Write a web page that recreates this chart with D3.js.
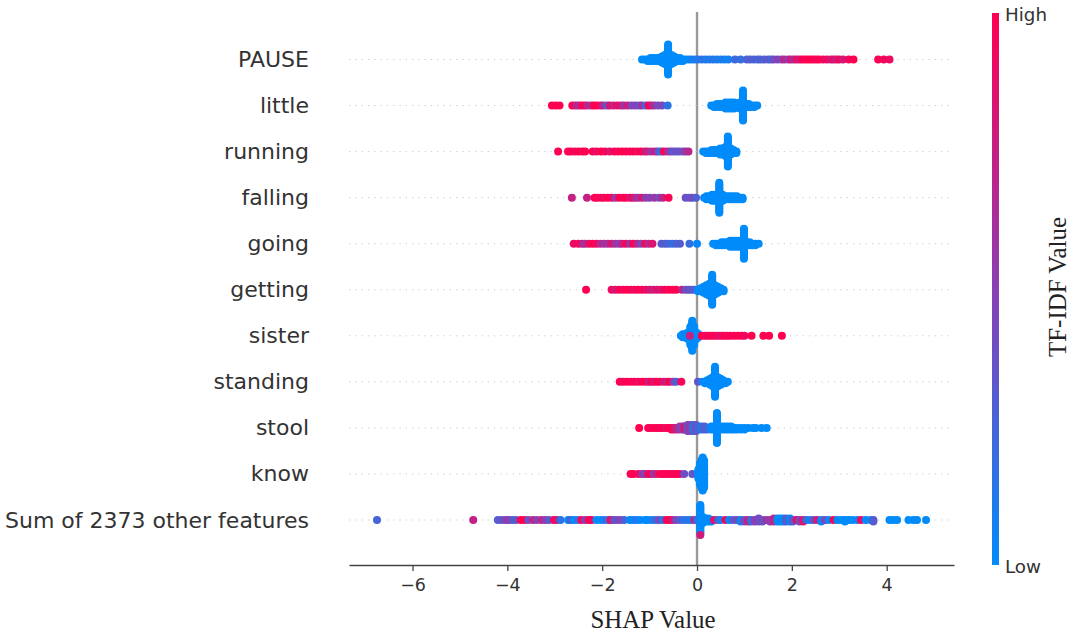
<!DOCTYPE html>
<html>

<head>
    <meta charset="utf-8">
    <style>
        body {
            margin: 0;
            background: #fff;
        }

        svg {
            display: block;
        }

        .x .tick text {
            font-family: 'DejaVu Sans', sans-serif;
            font-size: 17.5px;
            fill: #333;
        }

        .x .tick line,
        .x .domain {
            stroke: #444;
            stroke-width: 1.3px;
        }

        .feature-label {
            font-family: 'DejaVu Sans', sans-serif;
            font-size: 22px;
            fill: #333;
            text-anchor: end;
            dominant-baseline: central;
        }

        .bar-label {
            font-family: 'DejaVu Sans', sans-serif;
            font-size: 18.3px;
            fill: #333;
            dominant-baseline: central;
        }

        .axis-title {
            font-family: 'Liberation Serif', serif;
            font-size: 24.9px;
            fill: #222;
            text-anchor: middle;
        }
    </style>
</head>

<body>
    <svg width="1075" height="632"></svg>

    <script src="https://d3js.org/d3.v7.min.js"></script>
    <script>
        let featureNames = ["PAUSE", "little", "running", "falling", "going", "getting", "sister", "standing", "stool", "know", "Sum of 2373 other features"]
        let xTicks = [-6, -4, -2, 0, 2, 4]
        let xExtent = [-7.34, 5.42]
        let barLabels = ["High", "Low"]

        // each point: [shap value, tf-idf value (0 low, 1 high), how many stacked at that shap value]
        let pauseValues = [
            [-1.16, 0], [-1.1, 0], [-1.04, 0, 2], [-0.98, 0, 3], [-0.92, 0, 3], [-0.86, 0, 3], [-0.8, 0, 3], [-0.74, 0, 5], [-0.68, 0, 7], [-0.61, 0, 21],
            [-0.54, 0, 7], [-0.48, 0, 5], [-0.42, 0, 3], [-0.36, 0, 3], [-0.3, 0, 2], [-0.24, 0], [-0.18, 0], [-0.12, 0.05], [-0.05, 0.1], [0.02, 0.12], [0.1, 0.15],
            [0.18, 0.12], [0.26, 0.1], [0.34, 0.14], [0.42, 0.1], [0.5, 0.08], [0.58, 0.1], [0.66, 0.06], [0.8, 0.22], [0.92, 0.2], [1.05, 0.25], [1.12, 0.3],
            [1.2, 0.28], [1.28, 0.25], [1.34, 0.3], [1.42, 0.27], [1.5, 0.35], [1.56, 0.25], [1.62, 0.4], [1.7, 0.5], [1.78, 0.45], [1.84, 0.7], [1.92, 0.55],
            [1.98, 0.8], [2.04, 0.62], [2.1, 0.9], [2.16, 0.8], [2.22, 1], [2.28, 0.95], [2.34, 1], [2.4, 1], [2.46, 1], [2.52, 0.95], [2.58, 1], [2.66, 0.92],
            [2.74, 0.95], [2.82, 0.8], [2.88, 0.9], [2.94, 0.75], [3, 0.95], [3.08, 0.8], [3.2, 0.95], [3.3, 1], [3.82, 0.98], [3.94, 0.95], [4.06, 0.92]
        ]
        let littleValues = [
            [-3.06, 1], [-2.98, 1], [-2.9, 1], [-2.63, 1], [-2.56, 0.8], [-2.5, 0.6], [-2.44, 0.9], [-2.38, 1], [-2.32, 0.75], [-2.24, 0.6], [-2.18, 1], [-2.12, 1],
            [-2.04, 0.95], [-1.98, 0.7], [-1.9, 0.3], [-1.84, 0.85], [-1.76, 0.75], [-1.68, 0.9], [-1.6, 0.8], [-1.54, 0.6], [-1.46, 0.8], [-1.38, 0.45], [-1.3, 0.5],
            [-1.22, 0.35], [-1.16, 0.6], [-1.08, 0.2], [-1.02, 1], [-0.96, 0.85], [-0.9, 0.6], [-0.82, 0.45], [-0.74, 0.45], [-0.62, 0.15],
            [0.3, 0], [0.36, 0, 2], [0.42, 0, 3], [0.48, 0, 3], [0.54, 0, 3], [0.6, 0, 5], [0.66, 0, 5], [0.72, 0, 5], [0.78, 0, 5], [0.84, 0, 3], [0.9, 0, 5],
            [0.97, 0, 21], [1.03, 0, 3], [1.09, 0, 3], [1.15, 0, 2], [1.21, 0, 2], [1.27, 0]
        ]
        let runningValues = [
            [-2.93, 1], [-2.72, 1], [-2.66, 1], [-2.58, 0.95], [-2.5, 1], [-2.42, 0.95], [-2.36, 1], [-2.2, 1], [-2.12, 0.9], [-2.02, 1], [-1.94, 0.95], [-1.84, 0.85],
            [-1.74, 1], [-1.66, 0.95], [-1.58, 1], [-1.5, 1], [-1.42, 0.95], [-1.34, 1], [-1.26, 0.9], [-1.18, 1], [-1.1, 0.85], [-1.04, 0.75], [-0.96, 0.6], [-0.88, 0.8],
            [-0.82, 0.4], [-0.76, 0.15], [-0.7, 1], [-0.62, 0.7], [-0.56, 0.5], [-0.5, 0.3], [-0.44, 0.4], [-0.38, 0.35], [-0.3, 0.45], [-0.24, 0.5], [-0.18, 0.7],
            [0.13, 0], [0.19, 0, 2], [0.25, 0, 2], [0.31, 0, 3], [0.37, 0, 3], [0.43, 0, 3], [0.49, 0, 5], [0.55, 0, 5], [0.6, 0, 7], [0.65, 0, 21], [0.71, 0, 5], [0.77, 0, 3], [0.83, 0, 2]
        ]
        let fallingValues = [
            [-2.64, 0.75], [-2.32, 0.75], [-2.16, 1], [-2.1, 0.95], [-2.02, 1], [-1.96, 0.9], [-1.88, 1], [-1.8, 0.95], [-1.72, 0.55], [-1.64, 1], [-1.56, 0.95], [-1.5, 1],
            [-1.42, 0.85], [-1.36, 0.9], [-1.3, 0.7], [-1.24, 0.6], [-1.16, 0.85], [-1.08, 0.5], [-1, 0.5], [-0.9, 0.55], [-0.8, 0.45], [-0.72, 0.75], [-0.6, 0.98],
            [-0.24, 0.4], [-0.16, 0.35], [-0.1, 0.4], [-0.02, 0.3],
            [0.15, 0], [0.2, 0, 3], [0.26, 0, 3], [0.32, 0, 5], [0.38, 0, 5], [0.47, 0, 21], [0.54, 0, 5], [0.6, 0, 3], [0.66, 0, 3], [0.72, 0, 3], [0.78, 0, 3], [0.84, 0, 3], [0.9, 0, 2], [0.96, 0, 2]
        ]
        let goingValues = [
            [-2.6, 0.9], [-2.5, 0.95], [-2.42, 0.75], [-2.36, 0.6], [-2.28, 0.9], [-2.2, 1], [-2.12, 0.95], [-2.04, 0.7], [-1.96, 0.6], [-1.88, 0.65], [-1.8, 0.85], [-1.72, 0.6],
            [-1.64, 0.5], [-1.58, 0.75], [-1.5, 0.95], [-1.42, 0.6], [-1.34, 1], [-1.26, 0.7], [-1.18, 0.45], [-1.1, 0.9], [-1.02, 0.7], [-0.94, 0.85],
            [-0.75, 0.3], [-0.67, 0.3], [-0.6, 0.25], [-0.52, 0.2], [-0.44, 0.25], [-0.36, 0.3], [-0.16, 0.2], [0, 0.02],
            [0.34, 0], [0.4, 0, 2], [0.46, 0, 2], [0.52, 0, 3], [0.58, 0, 3], [0.64, 0, 3], [0.7, 0, 5], [0.76, 0, 5], [0.82, 0, 5], [0.88, 0, 5], [0.94, 0, 5], [0.99, 0, 21],
            [1.05, 0, 3], [1.11, 0, 3], [1.17, 0, 2], [1.23, 0, 2], [1.3, 0]
        ]
        let gettingValues = [
            [-2.34, 1], [-1.8, 0.95], [-1.72, 0.8], [-1.64, 1], [-1.56, 0.95], [-1.48, 1], [-1.4, 1], [-1.32, 0.9], [-1.24, 1], [-1.16, 0.95], [-1.08, 0.9], [-1, 0.85],
            [-0.92, 0.75], [-0.84, 0.9], [-0.76, 0.8], [-0.68, 1], [-0.6, 0.95], [-0.52, 1], [-0.44, 1], [-0.32, 0.75], [-0.24, 0.4], [-0.18, 0.38], [-0.12, 0.35], [-0.06, 0.3],
            [0.02, 0, 2], [0.08, 0, 3], [0.14, 0, 5], [0.2, 0, 7], [0.26, 0, 9], [0.32, 0, 21], [0.38, 0, 7], [0.44, 0, 5], [0.5, 0, 3], [0.56, 0, 2]
        ]
        let sisterValues = [
            [-0.34, 0], [-0.3, 0, 3], [-0.25, 0, 3], [-0.2, 0, 5], [-0.14, 0, 13], [-0.1, 0, 21], [-0.06, 0, 13], [-0.01, 0, 5], [0.03, 0, 3], [-0.15, 0.75],
            [0.1, 1], [0.16, 0.98], [0.22, 0.92], [0.28, 1], [0.34, 0.95], [0.4, 1], [0.46, 0.85], [0.52, 0.95], [0.58, 1], [0.64, 0.92], [0.7, 1], [0.78, 1],
            [0.86, 0.98], [0.94, 1], [1.0, 0.95], [1.15, 1], [1.4, 1], [1.52, 1], [1.79, 1]
        ]
        let standingValues = [
            [-1.63, 1], [-1.56, 0.95], [-1.48, 1], [-1.4, 0.95], [-1.32, 1], [-1.24, 0.9], [-1.16, 1], [-1.08, 1], [-1.02, 0.75], [-0.96, 1], [-0.9, 0.8], [-0.84, 1],
            [-0.78, 0.95], [-0.7, 0.85], [-0.64, 0.75], [-0.58, 1], [-0.5, 0.55], [-0.44, 0.3], [-0.33, 0.95], [0.02, 0.35],
            [0.12, 0], [0.17, 0, 2], [0.22, 0, 3], [0.28, 0, 5], [0.33, 0, 7], [0.38, 0, 21], [0.44, 0, 7], [0.5, 0, 5], [0.55, 0, 3], [0.6, 0, 2], [0.65, 0]
        ]
        let stoolValues = [
            [-1.22, 1], [-1.03, 1], [-0.97, 0.95], [-0.9, 1], [-0.84, 1], [-0.78, 0.95], [-0.72, 1], [-0.66, 0.9], [-0.6, 1], [-0.54, 1, 2], [-0.48, 0.85, 2],
            [-0.42, 0.7, 2], [-0.36, 0.55, 3], [-0.3, 0.45, 3], [-0.26, 0.85, 3], [-0.2, 0.4, 5], [-0.14, 0.55, 5], [-0.08, 0.2, 5], [-0.02, 0.35, 5], [0.04, 0.25, 3], [0.1, 0.15, 3], [0.16, 0.3, 3], [0.22, 0.25, 2],
            [0.3, 0, 3], [0.36, 0, 3], [0.42, 0, 21], [0.48, 0, 3], [0.54, 0, 3], [0.6, 0, 3], [0.66, 0, 3], [0.72, 0, 3], [0.78, 0, 2], [0.84, 0, 2], [0.92, 0, 2], [1, 0, 2], [1.08, 0], [1.18, 0], [1.24, 0], [1.36, 0], [1.47, 0]
        ]
        let knowValues = [
            [-1.4, 1], [-1.34, 1], [-1.24, 0.95], [-1.16, 0.6], [-1.1, 0.45], [-1.04, 0.85], [-0.98, 1], [-0.92, 0.55], [-0.86, 0.75], [-0.78, 1], [-0.72, 0.95], [-0.66, 1],
            [-0.6, 0.95], [-0.54, 1], [-0.48, 0.95], [-0.42, 1], [-0.36, 0.95], [-0.27, 0.4], [-0.1, 0.35],
            [0.03, 0, 7], [0.06, 0, 15], [0.09, 0, 19], [0.12, 0, 23], [0.15, 0, 19]
        ]
        let otherValues = [
            [-6.75, 0.25], [-4.72, 0.75], [-4.2, 0.3], [-4.12, 0.35], [-4.04, 0.45], [-3.98, 0.55], [-3.9, 0.35], [-3.82, 0.3], [-3.72, 0.98], [-3.64, 1], [-3.56, 0.4], [-3.46, 0.75],
            [-3.38, 0.5], [-3.28, 0.7], [-3.2, 0.55], [-3.12, 0.3], [-3.02, 0.95], [-2.96, 0.85], [-2.88, 0.15], [-2.72, 0], [-2.66, 0.3], [-2.6, 0], [-2.52, 0.1], [-2.44, 0.98],
            [-2.36, 0.5], [-2.28, 1], [-2.22, 0.95], [-2.12, 0], [-2.04, 0], [-1.96, 0.1], [-1.88, 0.25], [-1.82, 0.95], [-1.76, 0.45], [-1.7, 0.35], [-1.62, 0.5], [-1.54, 0.3], [-1.42, 0],
            [-1.36, 0.05], [-1.28, 0.1], [-1.2, 0.02], [-1.1, 0], [-1.04, 0], [-0.96, 0.05], [-0.88, 0.2], [-0.8, 0.45], [-0.72, 0.1], [-0.64, 1], [-0.58, 0.95], [-0.52, 0.85], [-0.44, 0.4], [-0.36, 0.3], [-0.28, 0.15],
            [-0.2, 0.2], [-0.14, 0.05], [-0.06, 0.7], [0, 0.2], [0.07, 0, 19], [0.07, 0.8], [0.07, 0], [0.12, 0, 5], [0.18, 0, 3], [0.24, 0, 3], [0.3, 0, 2], [0.36, 0.9], [0.44, 0.35], [0.5, 0.05],
            [0.6, 0.95], [0.68, 0], [0.76, 0.3], [0.84, 0.45], [0.92, 0.05, 2], [1, 0.4, 2], [1.08, 0.8, 2], [1.14, 0.2, 2], [1.22, 0.5, 2], [1.3, 0.45, 3], [1.38, 0.35, 2], [1.46, 0.6], [1.54, 0.5, 2],
            [1.62, 0.75, 3], [1.7, 0, 3], [1.76, 0, 3], [1.82, 0, 3], [1.88, 0.3, 3], [1.96, 0.05, 3], [2.02, 0.3, 2], [2.1, 0.95], [2.16, 0.45, 2], [2.24, 0.9, 2], [2.3, 0.25], [2.38, 0.05],
            [2.46, 0.4], [2.54, 0.85], [2.62, 0, 2], [2.7, 0.5], [2.78, 0], [2.88, 1], [2.96, 0], [3.04, 0], [3.12, 0, 2], [3.2, 0], [3.28, 0], [3.38, 0.05], [3.46, 0.95], [3.56, 0], [3.66, 0.02],
            [3.72, 0.3, 2], [4.06, 0], [4.14, 0], [4.22, 0], [4.46, 0], [4.56, 0], [4.64, 0], [4.83, 0]
        ]
        let allValues = [pauseValues, littleValues, runningValues, fallingValues, goingValues, gettingValues, sisterValues, standingValues, stoolValues, knowValues, otherValues]

        let svg = d3.select("svg")

        let x = d3.scaleLinear()
            .domain(xExtent)
            .range([349, 954])

        let y = d3.scalePoint()
            .domain(featureNames)
            .range([59.5, 520])

        let color = d3.scaleLinear()
            .domain([0, 0.5, 1])
            .range(["#008bfb", "#8a3fb4", "#ff0051"])

        // dotted guide lines
        svg.selectAll(".guide")
            .data(featureNames)
            .join("line")
            .attr("class", "guide")
            .attr("x1", 349)
            .attr("x2", 954)
            .attr("y1", d => y(d))
            .attr("y2", d => y(d))
            .attr("stroke", "#ccc")
            .attr("stroke-width", 1)
            .attr("stroke-dasharray", "1.3 5")

        // stack repeated values up and down around the row, same shap value keeps stacking
        let layerStep = 1.5
        let points = []
        allValues.forEach((row, i) => {
            let used = new Map()
            row.forEach(d => {
                d3.range(d[2] || 1).forEach(() => {
                    let k = used.get(d[0]) || 0
                    used.set(d[0], k + 1)
                    let side = k % 2 ? 1 : -1
                    points.push({
                        name: featureNames[i],
                        shap: d[0],
                        value: d[1],
                        offset: side * Math.ceil(k / 2) * layerStep
                    })
                })
            })
        })

        svg.append("g")
            .attr("class", "dots")
            .selectAll("circle")
            .data(points)
            .join("circle")
            .attr("cx", d => x(d.shap))
            .attr("cy", d => y(d.name) + d.offset)
            .attr("r", 4)
            .attr("fill", d => color(d.value))

        svg.append("line")
            .attr("x1", x(0))
            .attr("x2", x(0))
            .attr("y1", 12)
            .attr("y2", 565)
            .attr("stroke", "#999")
            .attr("stroke-width", 2.4)
            .lower()

        let xAxisSettings = d3.axisBottom(x)
            .tickValues(xTicks)
            .tickSize(6)
            .tickSizeOuter(0)
            .tickPadding(8)

        svg.append("g")
            .attr("class", "x axis")
            .attr("transform", "translate(0, 565)")
            .call(xAxisSettings)

        svg.selectAll(".feature-label")
            .data(featureNames)
            .join("text")
            .attr("class", "feature-label")
            .attr("x", 309)
            .attr("y", d => y(d))
            .text(d => d)

        svg.append("text")
            .attr("class", "axis-title")
            .attr("x", 653)
            .attr("y", 628)
            .text("SHAP Value")

        // colour bar
        let barY = d3.scaleLinear().domain([0, 1]).range([565, 13])
        let gradient = svg.append("defs")
            .append("linearGradient")
            .attr("id", "bar-gradient")
            .attr("x1", 0).attr("x2", 0).attr("y1", 1).attr("y2", 0)
        gradient.selectAll("stop")
            .data(color.domain())
            .join("stop")
            .attr("offset", d => d)
            .attr("stop-color", d => color(d))

        svg.append("rect")
            .attr("x", 992)
            .attr("y", barY(1))
            .attr("width", 7)
            .attr("height", barY(0) - barY(1))
            .attr("fill", "url(#bar-gradient)")

        svg.selectAll(".bar-label")
            .data(barLabels)
            .join("text")
            .attr("class", "bar-label")
            .attr("x", 1005)
            .attr("y", (d, i) => barY(1 - i) + 1)
            .text(d => d)

        svg.append("text")
            .attr("class", "axis-title")
            .attr("transform", "translate(1066, 287) rotate(-90)")
            .text("TF-IDF Value")
    </script>
</body>

</html>
